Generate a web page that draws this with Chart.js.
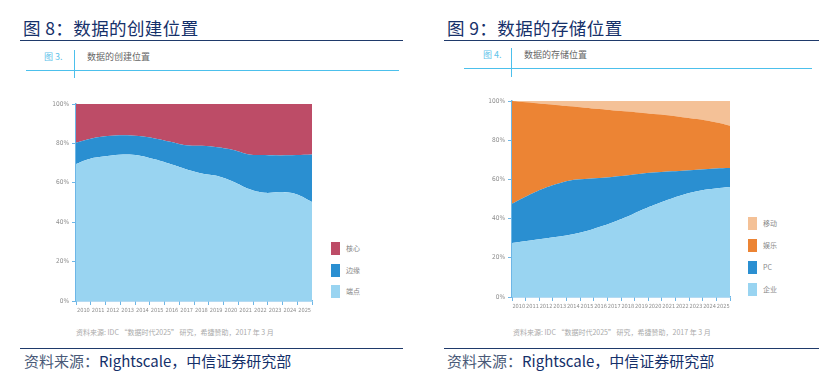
<!DOCTYPE html>
<html>
<head>
<meta charset="utf-8">
<script src="https://cdn.jsdelivr.net/npm/chart.js@4.4.1/dist/chart.umd.min.js"></script>
<style>
  body { margin: 0; width: 837px; height: 377px; background: #fff; position: relative; overflow: hidden;
         font-family: "Noto Sans CJK SC", "Liberation Sans", sans-serif; }
  .abs { position: absolute; white-space: nowrap; }
  .title { font-size: 17.5px; color: #15306a; line-height: 20px; letter-spacing: 0.4px; }
  .navy-line { position: absolute; height: 1.5px; background: #1f3a6b; }
  .blue-line { position: absolute; background: #4cc0ec; }
  .fig-no { font-size: 9px; color: #62c3ea; line-height: 12px; }
  .fig-name { font-size: 9px; color: #666; line-height: 12px; }
  .note { font-size: 7px; color: #aaa; line-height: 10px; }
  .src { font-size: 15px; color: #15306a; line-height: 20px; }
  .src .g { color: #4a5a78; }
  .leg { position: absolute; font-size: 7px; color: #888; line-height: 13px; }
  .leg .sw { display: inline-block; width: 9px; height: 13px; vertical-align: top; margin-right: 6px; }
  canvas { position: absolute; }
</style>
</head>
<body>
<!-- left panel -->
<div class="abs title" style="left:23px; top:18px;">图 8：数据的创建位置</div>
<div class="navy-line" style="left:20px; top:39.5px; width:383px;"></div>
<div class="abs fig-no" style="left:44px; top:51px;">图 3.</div>
<div class="blue-line" style="left:74px; top:50px; width:1px; height:28px;"></div>
<div class="abs fig-name" style="left:87px; top:51px;">数据的创建位置</div>
<div class="blue-line" style="left:26px; top:69.5px; width:373px; height:1px;"></div>
<div style="position:absolute; left:40px; top:96px; width:280px; height:225px;"><canvas id="createChart"></canvas></div>
<div class="leg" id="createLegend" style="left:331px; top:242px;"></div>
<div class="abs note" style="left:76px; top:327px;">资料来源: IDC “数据时代2025” 研究，希捷赞助，2017 年 3 月</div>
<div class="navy-line" style="left:20px; top:347.5px; width:383px;"></div>
<div class="abs src" style="left:24px; top:351px;"><span class="g">资料来源：</span>Rightscale，中信证券研究部</div>

<!-- right panel -->
<div class="abs title" style="left:447px; top:18px;">图 9：数据的存储位置</div>
<div class="navy-line" style="left:444px; top:39.5px; width:375px;"></div>
<div class="abs fig-no" style="left:483px; top:49px;">图 4.</div>
<div class="blue-line" style="left:511px; top:48px; width:1px; height:29px;"></div>
<div class="abs fig-name" style="left:524px; top:49px;">数据的存储位置</div>
<div class="blue-line" style="left:464px; top:68px; width:348px; height:1px;"></div>
<div style="position:absolute; left:476px; top:92px; width:262px; height:225px;"><canvas id="storeChart"></canvas></div>
<div class="leg" id="storeLegend" style="left:748px; top:217px;"></div>
<div class="abs note" style="left:513px; top:327px;">资料来源: IDC “数据时代2025” 研究，希捷赞助，2017 年 3 月</div>
<div class="navy-line" style="left:444px; top:347.5px; width:375px;"></div>
<div class="abs src" style="left:447px; top:351px;"><span class="g">资料来源：</span>Rightscale，中信证券研究部</div>

<script>
const years = ['2010', '2011', '2012', '2013', '2014', '2015', '2016', '2017',
               '2018', '2019', '2020', '2021', '2022', '2023', '2024', '2025'];

// 数据的创建位置 (%), stacked bottom -> top
const endpoint = [69.5, 72.4, 73.6, 74.4, 73.9, 71.9, 69.5, 66.9, 64.7, 63.4, 60.5, 56.8, 54.9, 55.3, 54.2, 50.3];
const edge     = [10.8, 10.1, 10.1, 9.7, 9.8, 10.6, 11.3, 12.1, 14.1, 14.6, 16.1, 17.6, 19.2, 18.6, 19.9, 24.1];
const core     = [19.7, 17.5, 16.3, 15.9, 16.3, 17.5, 19.2, 21.0, 21.2, 22.0, 23.4, 25.6, 25.9, 26.1, 25.9, 25.6];

// 数据的存储位置 (%), stacked bottom -> top
const enterprise    = [27.6, 28.6, 29.6, 30.6, 31.8, 33.4, 35.7, 38.3, 41.2, 44.6, 47.6, 50.3, 52.7, 54.4, 55.4, 56.1];
const pc            = [20.0, 22.8, 25.2, 26.9, 27.7, 26.8, 25.0, 23.1, 20.9, 18.4, 16.0, 13.8, 11.9, 10.7, 10.2, 9.7];
const entertainment = [52.4, 47.9, 43.8, 40.5, 37.8, 36.4, 35.2, 33.8, 32.5, 30.9, 29.6, 28.4, 26.9, 25.4, 23.5, 21.6];
const mobile        = [0.0, 0.7, 1.4, 2.0, 2.7, 3.4, 4.1, 4.8, 5.4, 6.1, 6.8, 7.5, 8.5, 9.5, 10.9, 12.6];

const yTicks = [0, 20, 40, 60, 80, 100];

const CRIMSON = '#bd4c67';
const MID_BLUE = '#2a8fd1';
const LIGHT_BLUE = '#99d4f1';
const ORANGE = '#ec8434';
const PEACH = '#f4c197';
const AXIS_BLUE = '#6db6e6';
const TICK_GREY = '#8c8c8c';
const TICK_FONT = 'DejaVu Sans Condensed, Liberation Sans Narrow, Liberation Sans';

function areaSet(label, data, color, first) {
  return {
    label: label,
    data: data,
    xAxisID: 'xd',
    backgroundColor: color,
    borderColor: color,
    borderWidth: 0,
    pointRadius: 0,
    tension: 0.4,
    fill: first ? 'origin' : '-1',
  };
}

function makeChart(id, datasets, pad) {
  return new Chart(document.getElementById(id), {
    type: 'line',
    data: { labels: years, datasets: datasets },
    options: {
      responsive: true,
      maintainAspectRatio: false,
      animation: false,
      layout: { padding: pad },
      plugins: { legend: { display: false }, tooltip: { enabled: false } },
      scales: {
        // visible year axis: labels centred in each slot, ticks on the boundaries
        x: {
          type: 'category',
          offset: true,
          grid: { offset: true, drawOnChartArea: false, color: AXIS_BLUE, tickLength: 4 },
          border: { color: AXIS_BLUE, width: 1.5 },
          ticks: { color: TICK_GREY, font: { family: TICK_FONT, size: 5.6 },
                    maxRotation: 0, autoSkip: false, padding: 2 },
          afterFit: s => { s.height = 16; },
        },
        // hidden axis that carries the areas edge to edge
        xd: { type: 'category', offset: false, display: false },
        y: {
          stacked: true,
          min: 0,
          max: 100,
          afterBuildTicks: s => { s.ticks = yTicks.map(v => ({ value: v })); },
          grid: { drawOnChartArea: false, color: AXIS_BLUE, tickLength: 4 },
          border: { color: AXIS_BLUE, width: 1.5 },
          ticks: { color: TICK_GREY, font: { family: TICK_FONT, size: 6.5 },
                   padding: 3, callback: v => v + '%' },
          afterFit: s => { s.width = 36; },
        },
      },
    },
  });
}

function buildLegend(elId, chart, gap) {
  const box = document.getElementById(elId);
  chart.data.datasets.slice().reverse().forEach(ds => {
    const row = document.createElement('div');
    row.style.marginBottom = gap + 'px';
    row.innerHTML = '<span class="sw" style="background:' + ds.backgroundColor + '"></span>' + ds.label;
    box.appendChild(row);
  });
}

const createChart = makeChart('createChart', [
  areaSet('端点', endpoint, LIGHT_BLUE, true),
  areaSet('边缘', edge, MID_BLUE),
  areaSet('核心', core, CRIMSON),
], { top: 8, right: 8, bottom: 4, left: 0 });

const storeChart = makeChart('storeChart', [
  areaSet('企业', enterprise, LIGHT_BLUE, true),
  areaSet('PC', pc, MID_BLUE),
  areaSet('娱乐', entertainment, ORANGE),
  areaSet('移动', mobile, PEACH),
], { top: 9, right: 8, bottom: 4, left: 0 });

buildLegend('createLegend', createChart, 8.5);
buildLegend('storeLegend', storeChart, 9);
</script>
</body>
</html>
